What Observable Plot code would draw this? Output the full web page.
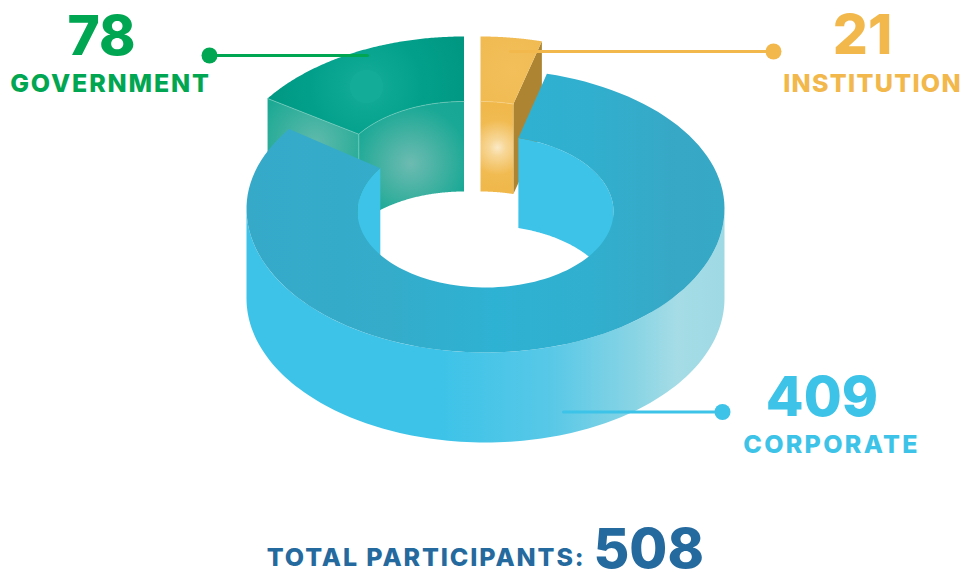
<!DOCTYPE html>
<html><head><meta charset="utf-8">
<script src="https://cdn.jsdelivr.net/npm/d3@7"></script>
<script src="https://cdn.jsdelivr.net/npm/@observablehq/plot@0.6"></script>
<style>
html,body{margin:0;padding:0;background:#fff}
svg{display:block}
.w0 text{letter-spacing:1.85px}
.w1 text{letter-spacing:1.3px}
.w2 text{letter-spacing:2.3px}
.w3 text{letter-spacing:1.9px}
</style></head><body>
<script>
const categories = ["GOVERNMENT", "INSTITUTION", "CORPORATE"];
const values = [78, 21, 409];
const totalLabel = "TOTAL PARTICIPANTS:";
const colors = ["#00a651", "#f2b84b", "#3dc3e8"];
const labelX = [110, 872, 831];
const numberX = [101, 862, 821.5];
const numberY = [54, 53, 415];
const nameY = [91, 91, 452];
const leaderFrom = [[209, 55], [773, 51], [722, 411.5]];
const leaderTo = [[367, 55], [510, 51], [563, 411.5]];

// ring geometry, one entry per slice
const centerX = [463.5, 480, 485];
const outerCY = [180, 180, 208];
const innerCY = [177, 177, 211];
const backRY = [144, 144, 139.5];
const RX = 239, RY = 144, rx = 128, ry = 76, depth = 90;

const total = d3.sum(values);
const startDeg = -values[0] / total * 360;
const angles = []; { let a = startDeg; for (const v of values) { angles.push([a, a + v / total * 360]); a += v / total * 360; } }

const pt = (i, outer, deg, drop = 0) => {
  const t = deg * Math.PI / 180, c = Math.cos(t);
  return outer
    ? [centerX[i] + RX * Math.sin(t), outerCY[i] - (c > 0 ? backRY[i] : RY) * c + drop]
    : [centerX[i] + rx * Math.sin(t), innerCY[i] - ry * c + drop];
};
const arc = (i, outer, a0, a1, drop = 0) => d3.range(0, 121).map(k => pt(i, outer, a0 + (a1 - a0) * k / 120, drop));
const topFace = (i) => [...arc(i, true, angles[i][0], angles[i][1]), ...arc(i, false, angles[i][1], angles[i][0])];
const innerWall = (i, a0, a1) => [...arc(i, false, a0, a1), ...arc(i, false, a1, a0, depth)];
const outerWall = (i, a0, a1) => [...arc(i, true, a0, a1), ...arc(i, true, a1, a0, depth)];
const cutFace = (i, deg) => [pt(i, true, deg), pt(i, false, deg), pt(i, false, deg, depth), pt(i, true, deg, depth)];

const poly = (pts, fill) => Plot.line(pts, {x: d => d[0], y: d => d[1], fill, stroke: "none", curve: "linear"});
const edge = (pts, stroke) => Plot.line(pts, {x: d => d[0], y: d => d[1], stroke, strokeWidth: 0.8, strokeOpacity: 0.8, curve: "linear"});

const stops = (arr) => arr.map(([o, c]) => `<stop offset="${o}" stop-color="${c}"/>`).join("");
const radial = (id, cx, cy, r, arr) => `<radialGradient id="${id}" gradientUnits="userSpaceOnUse" cx="${cx}" cy="${cy}" r="${r}">${stops(arr)}</radialGradient>`;
const linear = (id, x1, x2, arr) => `<linearGradient id="${id}" gradientUnits="userSpaceOnUse" x1="${x1}" x2="${x2}" y1="0" y2="0">${stops(arr)}</linearGradient>`;
const defs = () => {
  const g = document.createElementNS("http://www.w3.org/2000/svg", "defs");
  g.innerHTML =
    radial("gTop", 366, 86, 125, [[0, "#12ac98"], [.13, "#12ac98"], [.135, "#0fa995"], [.45, "#02a08b"], [1, "#00937d"]]) +
    radial("gIn", 410, 163, 70, [[0, "#6dbbb1"], [.5, "#3cb0a0"], [.85, "#18a895"], [1, "#17a794"]]) +
    radial("gFace", 315, 142, 60, [[0, "#5fbaab"], [1, "#1ba994"]]) +
    radial("yTop", 512, 70, 60, [[0, "#f2bf5a"], [1, "#f0b94e"]]) +
    radial("yIn", 497, 147, 42, [[0, "#fbe9c6"], [.2, "#f7d797"], [.65, "#f1bb52"], [1, "#f0b84b"]]) +
    linear("bTop", 246, 724, [[0, "#36a9c9"], [.3, "#34acca"], [.52, "#2eb2d3"], [.72, "#31afce"], [.9, "#37a8c6"], [1, "#36a9c7"]]) +
    linear("bOut", 246, 724, [[0, "#3dc3e8"], [.406, "#3dc3e8"], [.636, "#58c8e7"], [.81, "#88d4e4"], [.9, "#a5dce6"], [1, "#9fd9e4"]]);
  return g;
};

const rows = categories.map((name, i) => ({name, value: String(values[i]), color: colors[i], nx: numberX[i], ny: numberY[i], lx: labelX[i], ly: nameY[i]}));
const font = "Inter";

const chart = Plot.plot({
  width: 965, height: 572, margin: 0,
  x: {type: "identity", axis: null},
  y: {type: "identity", axis: null},
  style: {background: "#fff"},
  marks: [
    defs,
    // government
    poly(cutFace(0, angles[0][0]), "url(#gFace)"),
    poly(innerWall(0, angles[0][0], angles[0][1]), "url(#gIn)"),
    poly(topFace(0), "url(#gTop)"),
    edge(arc(0, false, angles[0][0], angles[0][1]), "#7fcfc2"),
    edge([pt(0, true, angles[0][0]), pt(0, false, angles[0][0]), pt(0, false, angles[0][0], depth)], "#7fcfc2"),
    // institution
    poly(cutFace(1, angles[1][1]), "#ad8432"),
    poly(innerWall(1, angles[1][0], angles[1][1]), "url(#yIn)"),
    poly(topFace(1), "url(#yTop)"),
    edge(arc(1, false, angles[1][0], angles[1][1]), "#f7d48e"),
    // corporate
    poly(innerWall(2, angles[2][0], 90), "#3dc3e8"),
    poly(innerWall(2, 270, angles[2][1]), "#3dc3e8"),
    poly(outerWall(2, 90, 270), "url(#bOut)"),
    poly(topFace(2), "url(#bTop)"),
    // leaders
    ...rows.map((r, i) => Plot.line([leaderFrom[i], leaderTo[i]], {x: d => d[0], y: d => d[1], stroke: r.color, strokeWidth: 3})),
    ...rows.map((r, i) => Plot.dot([leaderFrom[i]], {x: d => d[0], y: d => d[1], r: 8, fill: r.color, stroke: "none"})),
    // labels
    Plot.text(rows, {x: "nx", y: "ny", text: "value", fill: "color", fontFamily: font, fontWeight: 800, fontSize: 55, textAnchor: "middle", lineAnchor: "bottom"}),
    ...rows.map((r, i) => Plot.text([r], {x: "lx", y: "ly", text: "name", fill: "color", fontFamily: font, fontWeight: 800, fontSize: 25, textAnchor: "middle", lineAnchor: "bottom", className: "w" + i})),
    Plot.text([totalLabel], {x: () => 585, y: () => 565, text: d => d, fill: "#256a9e", fontFamily: font, fontWeight: 800, fontSize: 25, textAnchor: "end", lineAnchor: "bottom", className: "w3"}),
    Plot.text([total], {x: () => 593, y: () => 567, text: d => String(d), fill: "#256a9e", fontFamily: font, fontWeight: 800, fontSize: 55, textAnchor: "start", lineAnchor: "bottom"})
  ]
});
document.body.appendChild(chart);
</script>
</body></html>
